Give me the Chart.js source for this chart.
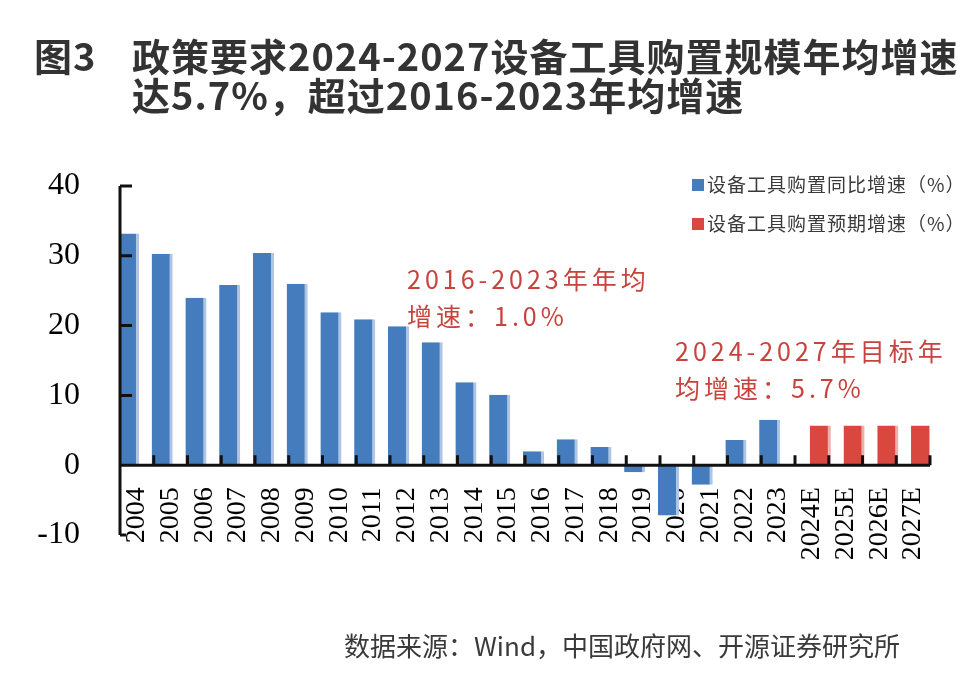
<!DOCTYPE html>
<html>
<head>
<meta charset="utf-8">
<script src="https://cdn.jsdelivr.net/npm/chart.js@4.4.1/dist/chart.umd.min.js"></script>
<style>
html, body { margin: 0; padding: 0; background: #fff; }
</style>
</head>
<body>
<canvas id="myChart" width="964" height="674"></canvas>
<script>
var years = ['2004','2005','2006','2007','2008','2009','2010','2011','2012','2013','2014','2015',
             '2016','2017','2018','2019','2020','2021','2022','2023','2024E','2025E','2026E','2027E'];
var actualGrowth = [33.2, 30.3, 24.0, 25.8, 30.4, 26.0, 21.9, 20.9, 19.9, 17.6, 11.9, 10.1,
                    2.0, 3.7, 2.6, -1.0, -7.2, -2.8, 3.6, 6.5, null, null, null, null];
var targetGrowth = [null, null, null, null, null, null, null, null, null, null, null, null,
                    null, null, null, null, null, null, null, null, 5.7, 5.7, 5.7, 5.7];
var yTicks = [-10, 0, 10, 20, 30, 40];
var seriesNames = ['设备工具购置同比增速（%）', '设备工具购置预期增速（%）'];

var titleLines = ['政策要求2024-2027设备工具购置规模年均增速', '达5.7%，超过2016-2023年均增速'];
var noteLeft = ['2016-2023年年均', '增速：1.0%'];
var noteRight = ['2024-2027年目标年', '均增速：5.7%'];
var sourceText = '数据来源：Wind，中国政府网、开源证券研究所';

var blue = '#447cbd';
var red = '#d9473f';

// axes, ticks, legend and text drawn on top of the chart
var decorations = {
    id: 'decorations',
    afterDraw: function(chart) {
        var ctx = chart.ctx;
        var x = chart.scales.x;
        var y = chart.scales.y;
        var area = chart.chartArea;
        ctx.save();

        // axis lines
        ctx.strokeStyle = '#111';
        ctx.lineWidth = 3;
        ctx.beginPath();
        ctx.moveTo(area.left, y.getPixelForValue(40));
        ctx.lineTo(area.left, y.getPixelForValue(-10));
        ctx.moveTo(area.left, y.getPixelForValue(0));
        ctx.lineTo(area.right, y.getPixelForValue(0));
        ctx.stroke();

        // y ticks pointing inward
        ctx.beginPath();
        yTicks.forEach(function(v) {
            if (v <= 0) return;
            var py = y.getPixelForValue(v);
            ctx.moveTo(area.left, py);
            ctx.lineTo(area.left + 12, py);
        });
        ctx.moveTo(area.left, y.getPixelForValue(-10));
        ctx.lineTo(area.left + 6, y.getPixelForValue(-10));
        ctx.stroke();

        // x ticks at category boundaries pointing up
        var zeroY = y.getPixelForValue(0);
        ctx.beginPath();
        for (var i = 1; i <= years.length; i++) {
            var bx;
            if (i < years.length) {
                bx = (x.getPixelForValue(i - 1) + x.getPixelForValue(i)) / 2;
            } else {
                bx = area.right;
            }
            ctx.moveTo(bx, zeroY);
            ctx.lineTo(bx, zeroY - 10);
        }
        ctx.stroke();

        // legend
        var colors = [blue, red];
        ctx.font = '19px "Noto Sans CJK SC"';
        ctx.textBaseline = 'middle';
        ctx.textAlign = 'left';
        ctx.letterSpacing = '1px';
        [185, 224].forEach(function(ly, k) {
            ctx.fillStyle = colors[k];
            ctx.fillRect(692, ly - 6, 12, 12);
            ctx.fillStyle = '#3a3a3a';
            ctx.fillText(chart.data.datasets[k].label, 707, ly);
        });

        // annotations
        ctx.fillStyle = '#c8433d';
        ctx.font = '25px "Noto Sans CJK SC"';
        ctx.letterSpacing = '4px';
        ctx.fillText(noteLeft[0], 407, 279);
        ctx.fillText(noteLeft[1], 407, 316);
        ctx.fillText(noteRight[0], 675, 351);
        ctx.fillText(noteRight[1], 675, 388);

        // title
        ctx.letterSpacing = '1px';
        ctx.fillStyle = '#333';
        ctx.font = 'bold 38px "Noto Sans CJK SC"';
        ctx.fillText('图3', 34, 57);
        ctx.fillText(titleLines[0], 132, 57);
        ctx.fillText(titleLines[1], 132, 96);

        // source
        ctx.letterSpacing = '0px';
        ctx.font = '26px "Noto Sans CJK SC"';
        ctx.fillStyle = '#3a3a3a';
        ctx.textAlign = 'right';
        ctx.fillText(sourceText, 900, 646);
        ctx.restore();
    }
};

var myChart = new Chart(document.getElementById('myChart').getContext('2d'), {
    type: 'bar',
    data: {
        labels: years,
        datasets: [{
            label: seriesNames[0],
            data: actualGrowth,
            backgroundColor: blue,
            borderColor: '#b0c4e3',
            borderWidth: { top: 0, right: 3, bottom: 0, left: 0 },
            borderSkipped: false,
            categoryPercentage: 1.0,
            barPercentage: 1.25
        }, {
            label: seriesNames[1],
            data: targetGrowth,
            backgroundColor: red,
            borderColor: '#eab0ad',
            borderWidth: { top: 0, right: 3, bottom: 0, left: 0 },
            borderSkipped: false,
            categoryPercentage: 1.0,
            barPercentage: 1.25
        }]
    },
    plugins: [decorations],
    options: {
        responsive: false,
        devicePixelRatio: 1,
        animation: false,
        layout: { padding: { top: 186, left: 0, right: 34, bottom: 139 } },
        plugins: {
            legend: { display: false },
            tooltip: { enabled: false }
        },
        scales: {
            x: {
                type: 'category',
                offset: true,
                position: { y: 0 },
                grid: { display: false },
                border: { display: false },
                ticks: {
                    autoSkip: false,
                    minRotation: 90,
                    maxRotation: 90,
                    padding: 14,
                    color: '#000',
                    font: { family: '"Liberation Serif"', size: 28 }
                }
            },
            y: {
                min: -10,
                max: 40,
                afterFit: function(scale) { scale.width = 120; },
                afterBuildTicks: function(scale) {
                    scale.ticks = yTicks.map(function(v) { return { value: v }; });
                },
                grid: { display: false, drawTicks: false },
                border: { display: false },
                ticks: {
                    padding: 40,
                    color: '#000',
                    font: { family: '"Liberation Serif"', size: 32 }
                }
            }
        }
    }
});
</script>
</body>
</html>
